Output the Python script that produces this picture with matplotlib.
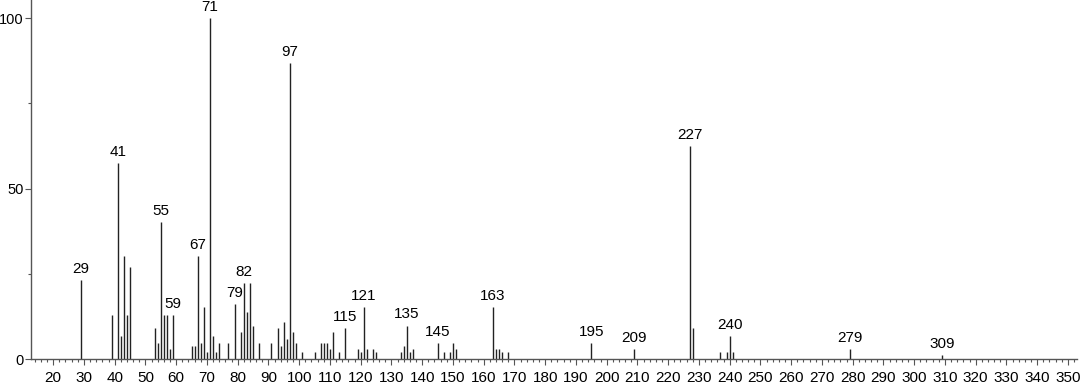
import matplotlib
matplotlib.use("Agg")
import matplotlib.pyplot as plt
from matplotlib.ticker import MultipleLocator

plt.rcParams['font.family'] = ['Liberation Sans', 'DejaVu Sans']

# m/z values and relative intensities
mz = [29, 39, 41, 42, 43, 44, 45, 53, 54, 55, 56, 57, 58, 59,
      65, 66, 67, 68, 69, 70, 71, 72, 73, 74, 77, 79, 81, 82, 83, 84, 85, 87,
      91, 93, 94, 95, 96, 97, 98, 99, 101, 105, 107, 108, 109, 110, 111, 113,
      115, 119, 120, 121, 122, 124, 125, 133, 134, 135, 136, 137,
      145, 147, 149, 150, 151, 163, 164, 165, 166, 168,
      195, 209, 227, 228, 237, 239, 240, 241, 279, 309]
intensity = [23.2, 12.9, 57.4, 6.7, 30.2, 12.9, 27.1, 9.0, 4.6, 40.1, 12.9, 12.9, 2.9, 12.9,
             3.8, 3.8, 30.2, 4.6, 15.2, 2.0, 100, 6.7, 2.0, 4.6, 4.6, 16.0, 8.0, 22.2, 13.9, 22.2, 9.8, 4.6,
             4.6, 9.0, 3.8, 10.9, 5.8, 86.8, 8.0, 4.6, 2.0, 2.0, 4.6, 4.6, 4.6, 2.8, 8.0, 2.0,
             9.0, 2.8, 2.0, 15.2, 2.8, 2.8, 2.0, 2.0, 3.8, 9.8, 2.0, 2.8,
             4.6, 2.0, 2.0, 4.8, 2.8, 15.2, 2.8, 2.8, 2.0, 2.0,
             4.6, 2.8, 62.5, 9.0, 2.0, 2.0, 6.7, 2.0, 2.8, 1.2]
labeled = [29, 41, 55, 59, 67, 71, 79, 82, 97, 115, 121, 135, 145, 163,
           195, 209, 227, 240, 279, 309]

fig = plt.figure(figsize=(10.92, 3.84), dpi=100)
ax = fig.add_axes([0.0284, 0.065, 0.958, 0.935])

ax.vlines(mz, 0, intensity, color='#222222', linewidth=1.0)

lookup = dict(zip(mz, intensity))
for m in labeled:
    ax.annotate(str(m), (m, lookup[m]), xytext=(0, 3), textcoords='offset points',
                ha='center', va='bottom', fontsize=11)

ax.set_xlim(12.8, 353)
ax.set_ylim(0, 105.3)
ax.set_xticks(range(20, 351, 10))
ax.xaxis.set_minor_locator(MultipleLocator(2))
ax.set_yticks([0, 50, 100])
ax.yaxis.set_minor_locator(MultipleLocator(25))

for s in ['top', 'right']:
    ax.spines[s].set_visible(False)
for s in ['left', 'bottom']:
    ax.spines[s].set_color('#555555')
    ax.spines[s].set_linewidth(1.0)

ax.tick_params(axis='x', which='major', length=4.5, width=0.8, color='#555555',
               labelsize=11, pad=4)
ax.tick_params(axis='y', which='major', length=4.5, width=0.8, color='#555555',
               labelsize=10.5, pad=0.8)
ax.tick_params(axis='both', which='minor', length=2.5, width=0.8, color='#555555')

fig.savefig("out.png", dpi=100)
